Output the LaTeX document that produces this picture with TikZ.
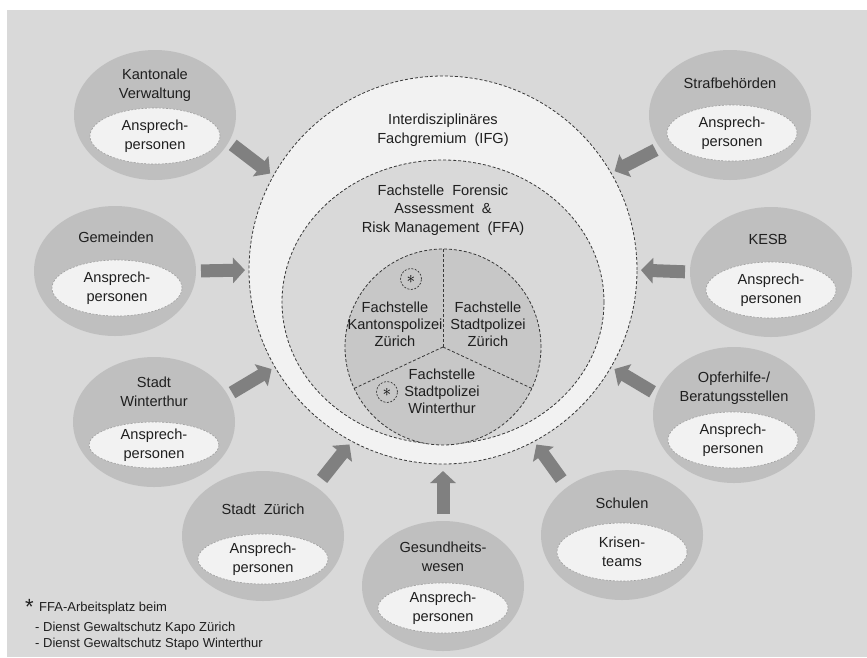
\documentclass[tikz,border=0pt]{standalone}
\usepackage{fontspec}
\setmainfont{Liberation Sans}
\usepackage{tikz}
\usetikzlibrary{shapes.geometric,arrows.meta}
\definecolor{hgrund}{gray}{0.85}
\definecolor{satgrau}{gray}{0.75}
\definecolor{hell}{gray}{0.95}
\definecolor{tortegrau}{gray}{0.78}
\definecolor{pfeilgrau}{gray}{0.5}
\definecolor{strich}{gray}{0.22}
\definecolor{schrift}{gray}{0.12}

\begin{document}
\begin{tikzpicture}[x=1pt,y=-1pt,
    txt/.style={align=center,text=schrift,inner sep=0pt,font=\fontsize{14.6}{18.5}\selectfont},
    pietxt/.style={txt,font=\fontsize{14.6}{16.8}\selectfont},
    sat/.style={ellipse,fill=satgrau,minimum width=162pt,minimum height=130pt,inner sep=0pt,outer sep=0pt},
    ap/.style={ellipse,fill=hell,draw=gray!75,dash pattern=on 2pt off 1.5pt,line width=0.6pt,
        minimum width=130pt,minimum height=56pt,inner sep=0pt,txt},
    ring/.style={fill=hell,draw=strich,line width=0.8pt,dash pattern=on 3pt off 2pt,inner sep=0pt,outer sep=0pt},
    trenn/.style={draw=strich,line width=0.8pt,dash pattern=on 3pt off 2pt},
    stern/.style={circle,draw=strich,line width=0.7pt,dash pattern=on 2pt off 1.5pt,minimum size=21pt,inner sep=0pt,
        font=\fontsize{18}{18}\selectfont},
    pfeil/.style={draw=pfeilgrau,line width=13pt,-{Triangle[width=25pt,length=12pt]},shorten <=5pt,shorten >=4pt},
    legende/.style={text=schrift,inner sep=0pt,font=\fontsize{13}{16.6}\selectfont}]
    \useasboundingbox (0,0) rectangle (867,657);
    % Background
    \fill[hgrund] (7,10) rectangle (867,657);
    % Circles in the middle
    \node[ring,circle,minimum size=388pt] (ifg) at (443,270) {};
    \node[ring,ellipse,fill=hgrund,minimum width=322pt,minimum height=284pt] (ffa) at (443,302) {};
    \node[ring,circle,fill=tortegrau,minimum size=196pt] (pie) at (443,347) {};
    \draw[trenn] (pie.center) -- (pie.90);
    \draw[trenn] (pie.center) -- (pie.205);
    \draw[trenn] (pie.center) -- (pie.335);
    \node[txt] (ifgtxt) at (443,130) {Interdisziplinäres\\Fachgremium\ \ (IFG)};
    \node[txt] (ffatxt) at (443,210) {Fachstelle\ \ Forensic\\Assessment\ \ \&\\Risk Management\ \ (FFA)};
    \node[pietxt] (kapo) at (395,324) {Fachstelle\\Kantonspolizei\\Zürich};
    \node[pietxt] (stapoz) at (488,324) {Fachstelle\\Stadtpolizei\\Zürich};
    \node[pietxt] (stapow) at (442,391) {Fachstelle\\Stadtpolizei\\Winterthur};
    \node[stern] (st1) at (411,279) {$\ast$};
    \node[stern] (st2) at (387,392) {$\ast$};
    % Partners
    \node[sat] (kv) at (155,115) {};
    \node[txt] (kvt) at (155,85) {Kantonale\\Verwaltung};
    \node[ap] (kvi) at (155,136) {Ansprech-\\personen};
    \node[sat] (sb) at (730,115) {};
    \node[txt] (sbt) at (730,83) {Strafbehörden};
    \node[ap] (sbi) at (732,133) {Ansprech-\\personen};
    \node[sat] (gm) at (115,271) {};
    \node[txt] (gmt) at (116,237) {Gemeinden};
    \node[ap] (gmi) at (117,288) {Ansprech-\\personen};
    \node[sat] (ke) at (771,272) {};
    \node[txt] (ket) at (768,239) {KESB};
    \node[ap] (kei) at (771,290) {Ansprech-\\personen};
    \node[sat] (sw) at (154,422) {};
    \node[txt] (swt) at (154,392) {Stadt\\Winterthur};
    \node[ap,minimum height=46pt] (swi) at (154,445) {Ansprech-\\personen};
    \node[sat,minimum height=136pt] (oh) at (734,415) {};
    \node[txt] (oht) at (734,388) {Opferhilfe-/\\Beratungsstellen};
    \node[ap] (ohi) at (733,440) {Ansprech-\\personen};
    \node[sat] (sz) at (263,536) {};
    \node[txt] (szt) at (263,509) {Stadt\ \ Zürich};
    \node[ap,minimum height=50pt] (szi) at (263,559) {Ansprech-\\personen};
    \node[sat] (gw) at (443,586) {};
    \node[txt] (gwt) at (443,557) {Gesundheits-\\wesen};
    \node[ap,minimum height=50pt] (gwi) at (443,608) {Ansprech-\\personen};
    \node[sat] (sc) at (622,535) {};
    \node[txt] (sct) at (622,503) {Schulen};
    \node[ap,minimum height=58pt] (sci) at (622,552) {Krisen-\\teams};
    % Arrows
    \draw[pfeil] (kv.-20) -- (ifg.151);
    \draw[pfeil] (sb.205) -- (ifg.30);
    \draw[pfeil] (gm.0) -- (ifg.180);
    \draw[pfeil] (ke.180) -- (ifg.0);
    \draw[pfeil] (sw.20) -- (ifg.210);
    \draw[pfeil] (oh.165) -- (ifg.-30);
    \draw[pfeil,shorten <=10pt] (sz.43) -- (ifg.242);
    \draw[pfeil,shorten <=7pt,shorten >=7pt] (gw.90) -- (ifg.-90);
    \draw[pfeil,shorten <=10pt] (sc.139) -- (ifg.298);
    % Legend
    \node[legende,anchor=base west,font=\fontsize{22}{22}\selectfont] (lgs) at (25,614) {*};
    \node[legende,anchor=west] (lgd1) at (39,608) {FFA-Arbeitsplatz beim};
    \node[legende,anchor=west,align=left] (lgd2) at (35,636) {- Dienst Gewaltschutz Kapo Zürich\\- Dienst Gewaltschutz Stapo Winterthur};
\end{tikzpicture}
\end{document}
